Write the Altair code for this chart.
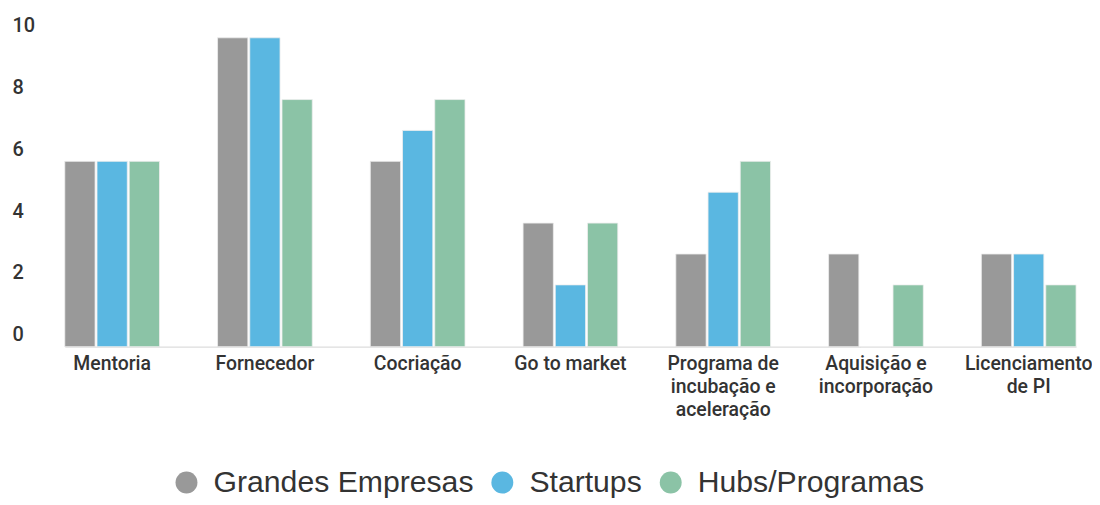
import altair as alt
import pandas as pd

categories = ["Mentoria", "Fornecedor", "Cocriação", "Go to market",
              "Programa de incubação e aceleração", "Aquisição e incorporação",
              "Licenciamento de PI"]
series = ["Grandes Empresas", "Startups", "Hubs/Programas"]
grandes = [6, 10, 6, 4, 3, 3, 3]
startups = [6, 10, 7, 2, 5, 0, 3]
hubs = [6, 8, 8, 4, 6, 2, 2]
colors = ["#999999", "#5AB7E1", "#8BC3A6"]
y_ticks = [0, 2, 4, 6, 8, 10]
label_lines = {
    "Programa de incubação e aceleração": ["Programa de", "incubação e", "aceleração"],
    "Aquisição e incorporação": ["Aquisição e", "incorporação"],
    "Licenciamento de PI": ["Licenciamento", "de PI"],
}

rows = []
for s, vals in zip(series, [grandes, startups, hubs]):
    for c, v in zip(categories, vals):
        rows.append({"categoria": c, "grupo": s, "valor": v})
df = pd.DataFrame(rows)

expr = "datum.label"
for k, lines in label_lines.items():
    arr = "[" + ",".join("'" + l + "'" for l in lines) + "]"
    expr = f"datum.label == '{k}' ? {arr} : ({expr})"

chart = alt.Chart(df).mark_bar(stroke="#eeeeee", strokeWidth=0.8).encode(
    x=alt.X("categoria:N", sort=categories, title=None,
            scale=alt.Scale(paddingInner=0.38, paddingOuter=0, range=[53, 1068]),
            axis=alt.Axis(labelAngle=0, labelExpr=expr, labelFont="Roboto",
                          labelFontSize=19.5, labelFontWeight=500, labelColor="#333333",
                          labelLineHeight=23, labelPadding=8, labelLimit=0,
                          ticks=False, domain=True, domainColor="#dddddd",
                          domainWidth=1.2, grid=False)),
    xOffset=alt.XOffset("grupo:N", sort=series,
                        scale=alt.Scale(paddingInner=0.06, paddingOuter=0)),
    y=alt.Y("valor:Q", title=None,
            scale=alt.Scale(domain=[0, 10], nice=False),
            axis=alt.Axis(values=y_ticks, domain=False, ticks=False, tickSize=0,
                          grid=False, labelAlign="left", labelPadding=0,
                          labelBaseline="alphabetic", labelOffset=-6,
                          labelFlush=False, labelOverlap=False, labelBound=False,
                          labelFont="Roboto", labelFontSize=20, labelFontWeight=500,
                          labelColor="#333333")),
    color=alt.Color("grupo:N", sort=series,
                    scale=alt.Scale(domain=series, range=colors),
                    legend=alt.Legend(title=None, orient="none", direction="horizontal",
                                      legendX=160, legendY=431,
                                      symbolType="circle", symbolSize=484,
                                      symbolStrokeWidth=0, symbolOpacity=1,
                                      labelFont="Liberation Sans", labelFontSize=30.3,
                                      labelColor="#333333", labelOffset=12,
                                      columnPadding=13, labelLimit=0)),
).properties(
    width=1084, height=310,
    padding={"left": 4, "top": 29, "right": 0, "bottom": 153},
    autosize=alt.AutoSizeParams(type="none"),
).configure_view(stroke=None)

chart.save("out.html", embed_options={"renderer": "svg", "actions": False})
